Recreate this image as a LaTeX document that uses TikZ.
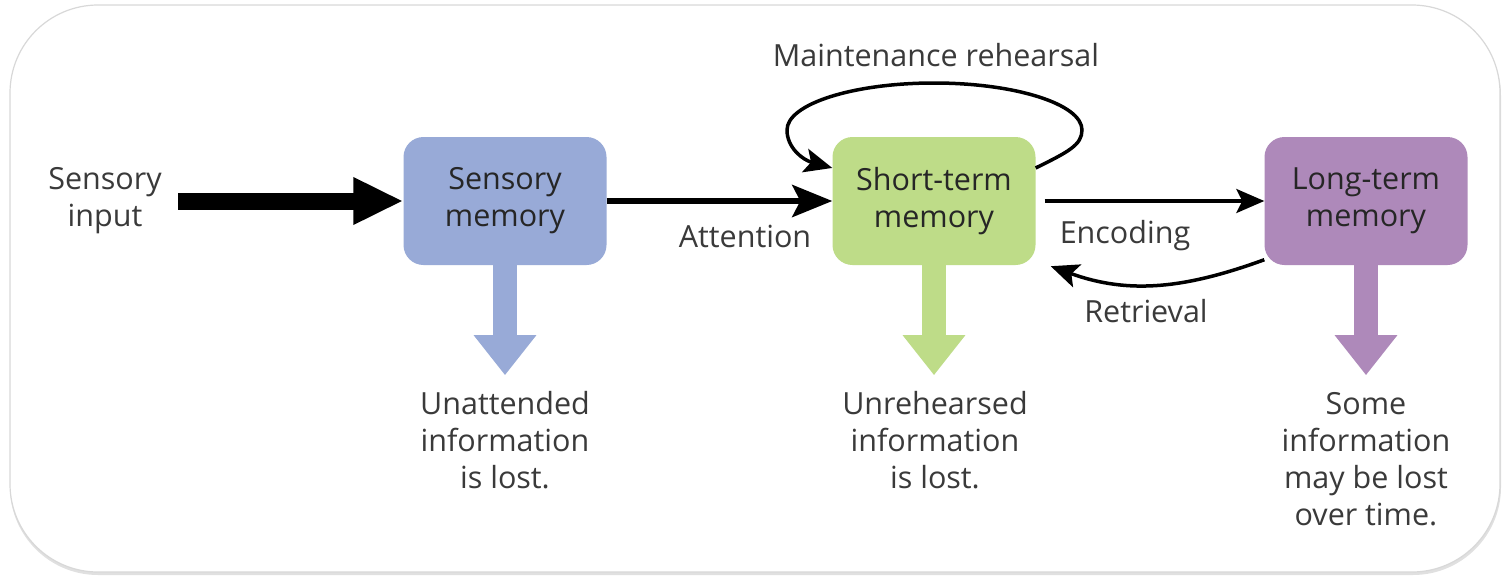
\documentclass[tikz,border=0pt]{standalone}
\usepackage{fontspec}
\setmainfont{Open Sans}
\usetikzlibrary{arrows.meta,calc}
\definecolor{sblue}{HTML}{98AAD7}
\definecolor{sgreen}{HTML}{BEDC88}
\definecolor{spurple}{HTML}{AE89BA}
\definecolor{txt}{HTML}{3A3A3A}
\definecolor{framec}{HTML}{D8D8D8}
\begin{document}
\begin{tikzpicture}[x=1pt,y=1pt,
  every node/.style={font=\fontsize{30.5}{37}\selectfont, text=txt},
  memory/.style={rectangle, rounded corners=20pt, minimum width=203pt, minimum height=128pt, align=center, text=black!85, inner sep=0pt},
  note/.style={align=center, inner sep=0pt},
  loss/.style={line width=24pt, -{Triangle[length=40pt,width=60pt]}},
  conn/.style={line width=3.5pt, -{Stealth[length=28pt,width=24pt,inset=6pt]}},
]
\useasboundingbox (0,0) rectangle (1508,-579);
\fill[black!12, rounded corners=88pt] (10,-8) rectangle (1501,-575);
\draw[framec, line width=1.2pt, fill=white, rounded corners=88pt] (10,-5) rectangle (1500,-572);

\node[memory, fill=sblue] (sm) at (505,-201) {Sensory\\memory};
\node[memory, fill=sgreen] (stm) at (934,-201) {Short-term\\memory};
\node[memory, fill=spurple] (ltm) at (1366,-201) {Long-term\\memory};
\node[note] (sin) at (105,-201) {Sensory\\input};
\node[note] (l1) at (505,-440) {Unattended\\information\\is lost.};
\node[note] (l2) at (935,-440) {Unrehearsed\\information\\is lost.};
\node[note] (l3) at (1366,-459) {Some\\information\\may be lost\\over time.};
\node (att) at (745,-236) {Attention};
\node (enc) at (1125,-236) {Encoding};
\node (ret) at (1146,-311) {Retrieval};
\node (mr) at (936,-55) {Maintenance rehearsal};

\draw[loss, sblue] (sm.south) -- ++(0,-110);
\draw[loss, sgreen] (stm.south) -- ++(0,-110);
\draw[loss, spurple] (ltm.south) -- ++(0,-110);

\draw[line width=17pt, -{Triangle[length=50pt,width=44pt]}] ($(sm.west)+(-225,0)$) -- (sm.west);
\draw[line width=6pt, -{Stealth[length=40pt,width=32pt,inset=8pt]}] (sm.east) -- (stm.west);
\draw[conn] ([xshift=9pt]stm.east) -- (ltm.west);
\draw[conn] (stm.18) .. controls (1068,-152) and (1082,-145) .. (1082,-130)
  .. controls (1082,-104) and (1015,-83) .. (934,-83)
  .. controls (853,-83) and (787,-104) .. (787,-130)
  .. controls (787,-148) and (803,-160) .. (stm.162);
\coordinate (rend) at ($(stm.south east)+(15,-1)$);
\draw[conn] (ltm.210) to[out=200,in=-20] (rend);
\end{tikzpicture}
\end{document}
